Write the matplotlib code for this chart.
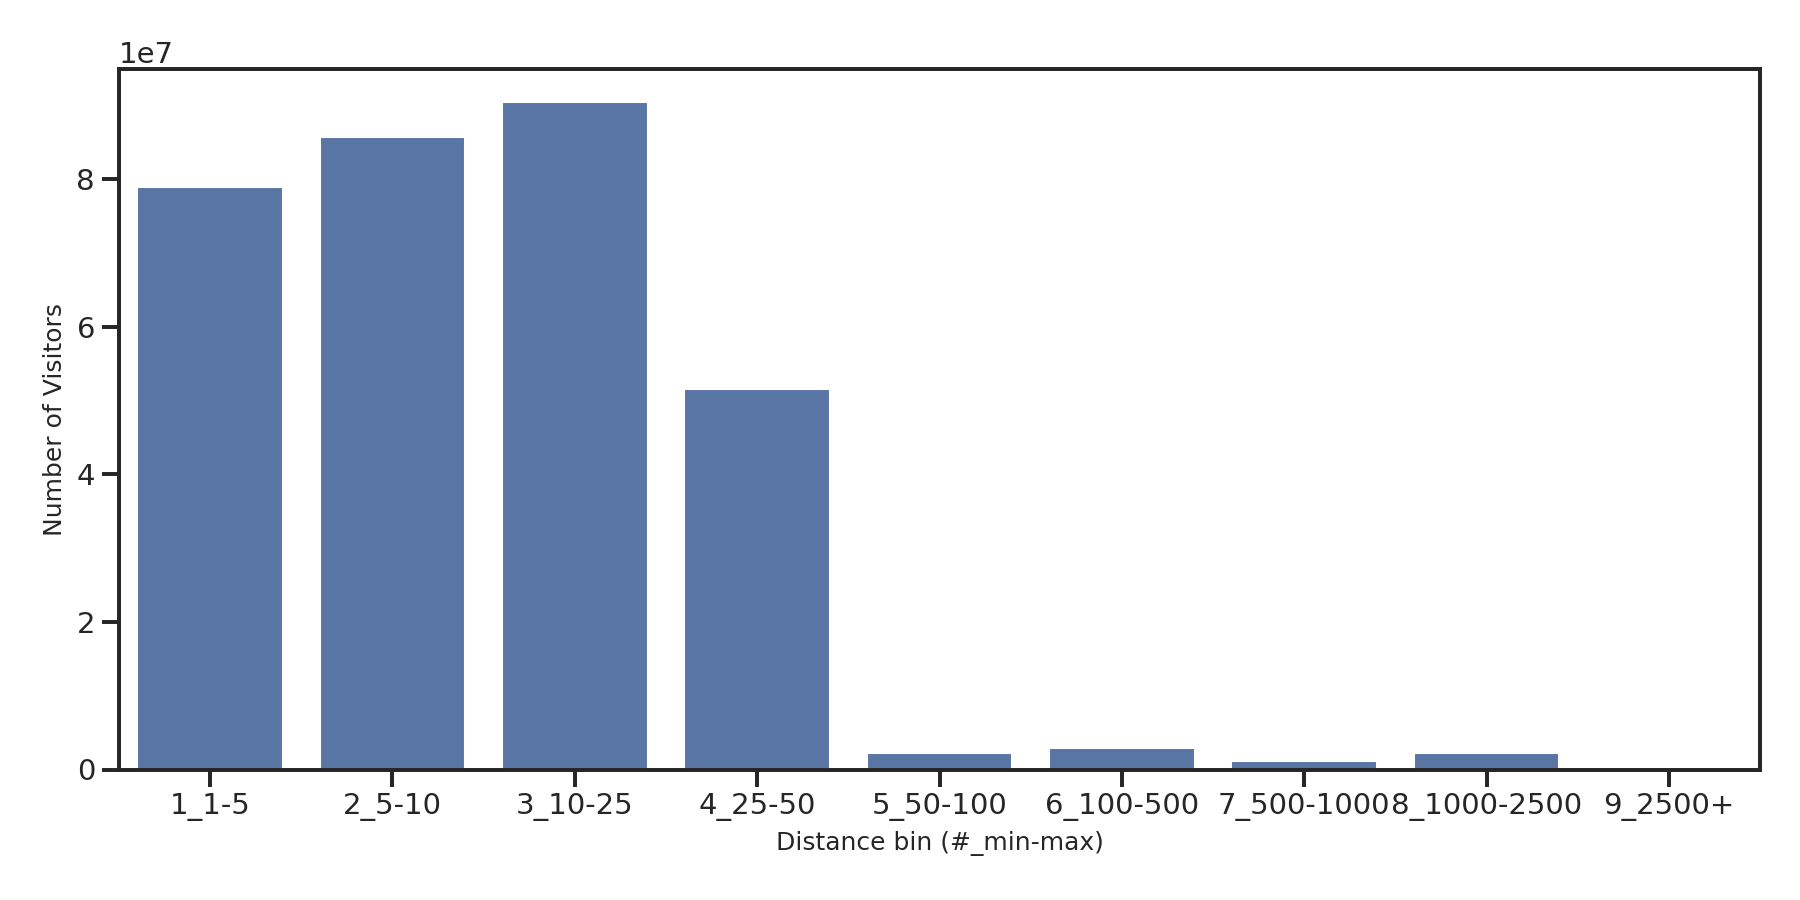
import matplotlib
matplotlib.use("Agg")
import matplotlib.pyplot as plt
import seaborn as sns

categories = ["1_1-5", "2_5-10", "3_10-25", "4_25-50", "5_50-100",
              "6_100-500", "7_500-1000", "8_1000-2500", "9_2500+"]
visitors = [7.89e7, 8.57e7, 9.04e7, 5.15e7, 2.3e6, 2.85e6, 1.2e6, 2.2e6, 1.0e5]

sns.set_theme(style="ticks")
plt.rcParams['font.family'] = ['DejaVu Sans']

fig, ax = plt.subplots(figsize=(12, 6), dpi=150)
fig.subplots_adjust(left=0.0661, right=0.9778, top=0.9233, bottom=0.145)

sns.barplot(x=categories, y=visitors, color="#4C72B0", ax=ax)

for s in ax.spines.values():
    s.set_linewidth(1.9)
    s.set_color("#262626")
ax.tick_params(axis="both", labelsize=14, length=8, width=1.9, color="#262626")
ax.yaxis.get_offset_text().set_fontsize(14)
ax.set_xlabel("Distance bin (#_min-max)", fontsize=12, labelpad=4.5)
ax.set_ylabel("Number of Visitors", fontsize=12, labelpad=4.5)

fig.savefig("out.png", dpi=150)
